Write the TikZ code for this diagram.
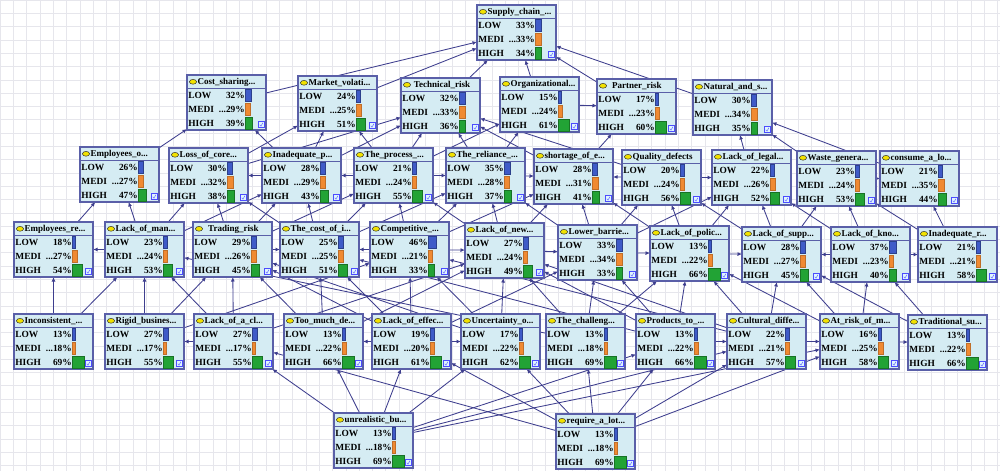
\documentclass[tikz,border=0pt]{standalone}
\usepackage{fontspec}
\setmainfont{Liberation Serif}
\usetikzlibrary{arrows.meta}
\pgfdeclarelayer{gridlayer}
\pgfdeclarelayer{edgelayer}
\pgfsetlayers{gridlayer,edgelayer,main}
\definecolor{boxfill}{HTML}{D5ECF3}
\definecolor{boxline}{HTML}{5A5FA8}
\definecolor{edgecol}{HTML}{3E3E8E}
\definecolor{barb}{HTML}{3F5BC8}
\definecolor{baro}{HTML}{F08A32}
\definecolor{barg}{HTML}{22A335}
\definecolor{gridc}{HTML}{E6E6EC}
\definecolor{ovalc}{HTML}{F2E200}
\tikzset{
 bnbox/.style={draw=boxline, line width=1.2pt, fill=boxfill, minimum width=79pt, minimum height=55pt, inner sep=0pt, outer sep=0pt},
 rowtext/.style={font=\fontsize{9.4}{10}\selectfont\bfseries, inner sep=0pt},
 titletext/.style={font=\fontsize{9}{10}\selectfont\bfseries, inner sep=0pt},
 edge/.style={draw=edgecol, line width=0.85pt, -{Latex[length=4.5pt,width=4pt]}},
}
\newcommand\bnet[7]{%
 \begin{scope}[shift={(#2,#3)}]
 \node[bnbox] (#1) at (39.5,27.5) {};
 \draw[boxline, line width=0.8pt] (0,13) -- (79,13);
 \filldraw[fill=ovalc, draw=black!80, line width=0.5pt] (6,6.8) ellipse (3.6pt and 2.4pt);
 \node[titletext, anchor=west] at (10.5,7.2) {#4};
 \node[rowtext, anchor=west] at (1.2,20.5) {LOW};
 \node[rowtext, anchor=west] at (1.2,34.5) {MEDI};
 \node[rowtext, anchor=west] at (1.2,48.5) {HIGH};
 \node[rowtext, anchor=east] at (58,20.5) {#5\%};
 \node[rowtext, anchor=east] at (58,34.5) {...#6\%};
 \node[rowtext, anchor=east] at (58,48.5) {#7\%};
 \filldraw[fill=barb, draw=barb!70!black, line width=0.3pt] (58.5,14.5) rectangle ++({#5*0.17},11.5);
 \filldraw[fill=baro, draw=baro!80!black, line width=0.3pt] (58.5,28.5) rectangle ++({#6*0.17},11.5);
 \filldraw[fill=barg, draw=barg!70!black, line width=0.3pt] (58.5,42.5) rectangle ++({#7*0.17},11.5);
 \filldraw[fill=cyan!12, draw=blue!70, line width=0.5pt] (71.5,46.5) rectangle (77,52.5);
 \draw[blue!70, line width=0.4pt] (72.8,49.8) -- (74,51.2) -- (75.8,47.8);
 \end{scope}}
\begin{document}
\begin{tikzpicture}[x=1pt,y=-1pt]
\useasboundingbox (0,0) rectangle (1000,471);
\begin{pgfonlayer}{gridlayer}
\fill[white] (0,0) rectangle (1000,471);
\foreach \gx in {0,13.3,...,1000} {\draw[gridc, line width=0.5pt] (\gx,0) -- (\gx,471);}
\foreach \gy in {0,13.3,...,471} {\draw[gridc, line width=0.5pt] (0,\gy) -- (1000,\gy);}
\end{pgfonlayer}
% row 0
\bnet{sc}{477}{5}{Supply\_chain\_...}{33}{33}{34}
% row 1
\bnet{cs}{187}{75}{Cost\_sharing...}{32}{29}{39}
\bnet{mv}{298}{76}{Market\_volati...}{24}{25}{51}
\bnet{tr}{401}{78}{\ Technical\_risk}{32}{33}{36}
\bnet{org}{500}{77}{Organizational...}{15}{24}{61}
\bnet{pr}{597}{79}{\ \ Partner\_risk}{17}{23}{60}
\bnet{ns}{693}{80}{Natural\_and\_s...}{30}{34}{35}
% row 2
\bnet{eo}{80}{147}{Employees\_o...}{26}{27}{47}
\bnet{lc}{169}{148}{Loss\_of\_core...}{30}{32}{38}
\bnet{ip}{262}{148}{Inadequate\_p...}{28}{29}{43}
\bnet{tp}{354}{148}{The\_process\_...}{21}{24}{55}
\bnet{rel}{446}{148}{The\_reliance\_...}{35}{28}{37}
\bnet{sh}{534}{149}{shortage\_of\_e...}{28}{31}{41}
\bnet{qd}{622}{150}{Quality\_defects}{20}{24}{56}
\bnet{ll}{712}{150}{Lack\_of\_legal...}{22}{26}{52}
\bnet{wg}{797}{151}{Waste\_genera...}{23}{24}{53}
\bnet{cl}{880}{151}{consume\_a\_lo...}{21}{35}{44}
% row 3
\bnet{er}{14}{222}{Employees\_re...}{18}{27}{54}
\bnet{lm}{105}{222}{Lack\_of\_man...}{23}{24}{53}
\bnet{trd}{193}{222}{\ \ Trading\_risk}{29}{26}{45}
\bnet{tc}{280}{222}{The\_cost\_of\_i...}{25}{25}{51}
\bnet{cp}{370}{222}{Competitive\_...}{46}{21}{33}
\bnet{ln}{465}{223}{Lack\_of\_new...}{27}{24}{49}
\bnet{lb}{558}{225}{Lower\_barrie...}{33}{34}{33}
\bnet{lp}{650}{226}{Lack\_of\_polic...}{13}{22}{66}
\bnet{ls}{742}{227}{Lack\_of\_supp...}{28}{27}{45}
\bnet{lk}{831}{227}{Lack\_of\_kno...}{37}{23}{40}
\bnet{ir}{918}{227}{Inadequate\_r...}{21}{21}{58}
% row 4
\bnet{inc}{14}{314}{Inconsistent\_...}{13}{18}{69}
\bnet{rig}{105}{314}{Rigid\_busines...}{27}{17}{55}
\bnet{lac}{194}{314}{Lack\_of\_a\_cl...}{27}{17}{55}
\bnet{tm}{284}{314}{Too\_much\_de...}{13}{22}{66}
\bnet{le}{372}{314}{Lack\_of\_effec...}{19}{20}{61}
\bnet{unc}{461}{314}{Uncertainty\_o...}{17}{22}{62}
\bnet{ch}{546}{314}{The\_challeng...}{13}{18}{69}
\bnet{pt}{636}{314}{Products\_to\_...}{13}{22}{66}
\bnet{cd}{727}{314}{Cultural\_diffe...}{22}{21}{57}
\bnet{ar}{820}{314}{At\_risk\_of\_m...}{16}{25}{58}
\bnet{ts}{908}{315}{Traditional\_su...}{13}{22}{66}
% row 5
\bnet{ub}{334}{413}{unrealistic\_bu...}{13}{18}{69}
\bnet{rq}{556}{414}{require\_a\_lot...}{13}{18}{69}
\begin{pgfonlayer}{edgelayer}
\foreach \a/\b in {cs/sc,mv/sc,tr/sc,org/sc,pr/sc,ns/sc,
 eo/cs,ip/cs,lc/mv,ip/mv,tp/mv,lc/tr,ip/tr,tp/tr,rel/tr,sh/tr,qd/tr,tp/org,rel/org,org/pr,sh/pr,ll/ns,wg/ns,cl/ns,
 ip/lc,tp/ip,tp/rel,rel/sh,qd/sh,qd/ll,wg/cl,
 er/eo,lm/eo,lm/lc,trd/lc,trd/ip,tc/ip,tc/tp,cp/tp,cp/rel,ln/rel,ln/sh,lb/sh,lb/qd,lp/qd,lp/ll,ls/ll,ls/wg,lk/wg,ir/wg,ir/cl,
 lm/ip,trd/tp,tc/rel,ln/tp,lb/rel,lp/sh,ls/qd,lk/ll,lb/ll,tc/lc,cp/sh,
 lm/er,trd/tc,cp/tc,cp/ln,ln/lb,lb/lp,lp/ls,lk/ls,lk/ir,
 inc/er,inc/lm,rig/lm,rig/trd,lac/trd,lac/lm,tm/tc,tm/trd,le/tc,le/cp,unc/cp,unc/ln,ch/ln,ch/lb,pt/lb,pt/lp,cd/ls,cd/lp,ar/lk,ar/ls,ts/lk,
 ch/lm,pt/tc,cd/cp,unc/trd,le/lb,tm/ln,lac/ln,rig/cp,ar/lp,ch/lp,ts/ls,cd/ln,pt/ln,le/trd,
 lac/rig,le/tm,le/unc,pt/cd,cd/ar,ar/ts,
 ub/lac,ub/le,ub/unc,ub/pt,ub/cd,ub/ar,rq/lac,rq/le,rq/unc,rq/pt,rq/cd,rq/ar,ub/tm,rq/ch}
 {\draw[edge] (\a) -- (\b);}
\end{pgfonlayer}
\end{tikzpicture}
\end{document}
